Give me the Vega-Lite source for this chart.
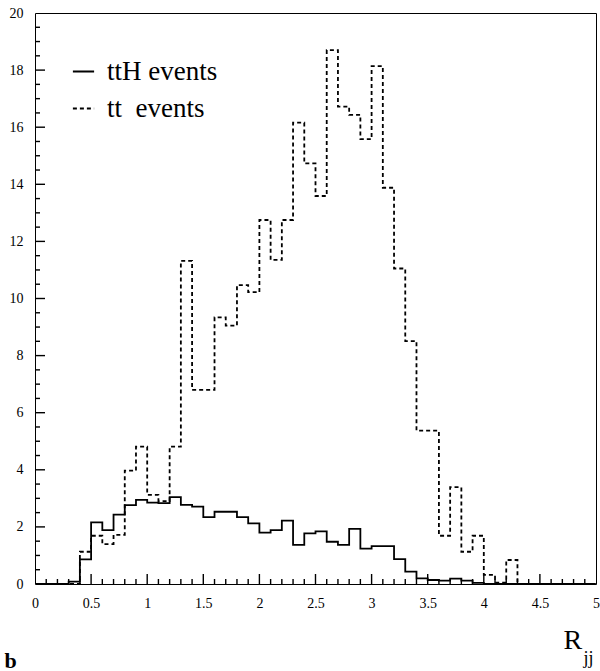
{
  "$schema": "https://vega.github.io/schema/vega-lite/v6.json",
  "autosize": "none",
  "width": 561,
  "height": 571,
  "padding": {"left": 35, "top": 13, "right": 4, "bottom": 87},
  "background": "white",
  "config": {
    "view": {"stroke": "black", "strokeWidth": 1, "fill": null},
    "font": "Liberation Serif",
    "tick": {"color": "black", "thickness": 1.4, "opacity": 1}
  },
  "datasets": {
    "hist": [
      {"x": 0.0, "v": 0, "s": "ttH events"}, {"x": 0.1, "v": 0, "s": "ttH events"}, {"x": 0.2, "v": 0, "s": "ttH events"}, {"x": 0.3, "v": 0.08, "s": "ttH events"}, {"x": 0.4, "v": 0.86, "s": "ttH events"},
      {"x": 0.5, "v": 2.16, "s": "ttH events"}, {"x": 0.6, "v": 1.89, "s": "ttH events"}, {"x": 0.7, "v": 2.43, "s": "ttH events"}, {"x": 0.8, "v": 2.76, "s": "ttH events"}, {"x": 0.9, "v": 2.95, "s": "ttH events"},
      {"x": 1.0, "v": 2.85, "s": "ttH events"}, {"x": 1.1, "v": 2.83, "s": "ttH events"}, {"x": 1.2, "v": 3.04, "s": "ttH events"}, {"x": 1.3, "v": 2.77, "s": "ttH events"}, {"x": 1.4, "v": 2.71, "s": "ttH events"},
      {"x": 1.5, "v": 2.34, "s": "ttH events"}, {"x": 1.6, "v": 2.53, "s": "ttH events"}, {"x": 1.7, "v": 2.53, "s": "ttH events"}, {"x": 1.8, "v": 2.34, "s": "ttH events"}, {"x": 1.9, "v": 2.12, "s": "ttH events"},
      {"x": 2.0, "v": 1.80, "s": "ttH events"}, {"x": 2.1, "v": 1.89, "s": "ttH events"}, {"x": 2.2, "v": 2.22, "s": "ttH events"}, {"x": 2.3, "v": 1.37, "s": "ttH events"}, {"x": 2.4, "v": 1.77, "s": "ttH events"},
      {"x": 2.5, "v": 1.84, "s": "ttH events"}, {"x": 2.6, "v": 1.48, "s": "ttH events"}, {"x": 2.7, "v": 1.37, "s": "ttH events"}, {"x": 2.8, "v": 1.93, "s": "ttH events"}, {"x": 2.9, "v": 1.24, "s": "ttH events"},
      {"x": 3.0, "v": 1.33, "s": "ttH events"}, {"x": 3.1, "v": 1.33, "s": "ttH events"}, {"x": 3.2, "v": 0.87, "s": "ttH events"}, {"x": 3.3, "v": 0.43, "s": "ttH events"}, {"x": 3.4, "v": 0.20, "s": "ttH events"},
      {"x": 3.5, "v": 0.14, "s": "ttH events"}, {"x": 3.6, "v": 0.12, "s": "ttH events"}, {"x": 3.7, "v": 0.19, "s": "ttH events"}, {"x": 3.8, "v": 0.12, "s": "ttH events"}, {"x": 3.9, "v": 0.04, "s": "ttH events"},
      {"x": 4.0, "v": 0, "s": "ttH events"}, {"x": 4.1, "v": 0, "s": "ttH events"}, {"x": 4.2, "v": 0, "s": "ttH events"}, {"x": 4.3, "v": 0, "s": "ttH events"}, {"x": 4.4, "v": 0, "s": "ttH events"},
      {"x": 4.5, "v": 0, "s": "ttH events"}, {"x": 4.6, "v": 0, "s": "ttH events"}, {"x": 4.7, "v": 0, "s": "ttH events"}, {"x": 4.8, "v": 0, "s": "ttH events"}, {"x": 4.9, "v": 0, "s": "ttH events"},
      {"x": 5.0, "v": 0, "s": "ttH events"},

      {"x": 0.0, "v": 0, "s": "tt\u00a0 events"}, {"x": 0.1, "v": 0, "s": "tt\u00a0 events"}, {"x": 0.2, "v": 0, "s": "tt\u00a0 events"}, {"x": 0.3, "v": 0, "s": "tt\u00a0 events"}, {"x": 0.4, "v": 1.13, "s": "tt\u00a0 events"},
      {"x": 0.5, "v": 1.69, "s": "tt\u00a0 events"}, {"x": 0.6, "v": 1.40, "s": "tt\u00a0 events"}, {"x": 0.7, "v": 1.72, "s": "tt\u00a0 events"}, {"x": 0.8, "v": 3.97, "s": "tt\u00a0 events"}, {"x": 0.9, "v": 4.81, "s": "tt\u00a0 events"},
      {"x": 1.0, "v": 3.12, "s": "tt\u00a0 events"}, {"x": 1.1, "v": 2.90, "s": "tt\u00a0 events"}, {"x": 1.2, "v": 4.81, "s": "tt\u00a0 events"}, {"x": 1.3, "v": 11.32, "s": "tt\u00a0 events"}, {"x": 1.4, "v": 6.80, "s": "tt\u00a0 events"},
      {"x": 1.5, "v": 6.80, "s": "tt\u00a0 events"}, {"x": 1.6, "v": 9.34, "s": "tt\u00a0 events"}, {"x": 1.7, "v": 9.05, "s": "tt\u00a0 events"}, {"x": 1.8, "v": 10.47, "s": "tt\u00a0 events"}, {"x": 1.9, "v": 10.22, "s": "tt\u00a0 events"},
      {"x": 2.0, "v": 12.75, "s": "tt\u00a0 events"}, {"x": 2.1, "v": 11.35, "s": "tt\u00a0 events"}, {"x": 2.2, "v": 12.75, "s": "tt\u00a0 events"}, {"x": 2.3, "v": 16.16, "s": "tt\u00a0 events"}, {"x": 2.4, "v": 14.73, "s": "tt\u00a0 events"},
      {"x": 2.5, "v": 13.59, "s": "tt\u00a0 events"}, {"x": 2.6, "v": 18.70, "s": "tt\u00a0 events"}, {"x": 2.7, "v": 16.72, "s": "tt\u00a0 events"}, {"x": 2.8, "v": 16.43, "s": "tt\u00a0 events"}, {"x": 2.9, "v": 15.58, "s": "tt\u00a0 events"},
      {"x": 3.0, "v": 18.14, "s": "tt\u00a0 events"}, {"x": 3.1, "v": 13.88, "s": "tt\u00a0 events"}, {"x": 3.2, "v": 11.05, "s": "tt\u00a0 events"}, {"x": 3.3, "v": 8.51, "s": "tt\u00a0 events"}, {"x": 3.4, "v": 5.37, "s": "tt\u00a0 events"},
      {"x": 3.5, "v": 5.37, "s": "tt\u00a0 events"}, {"x": 3.6, "v": 1.69, "s": "tt\u00a0 events"}, {"x": 3.7, "v": 3.39, "s": "tt\u00a0 events"}, {"x": 3.8, "v": 1.13, "s": "tt\u00a0 events"}, {"x": 3.9, "v": 1.69, "s": "tt\u00a0 events"},
      {"x": 4.0, "v": 0.32, "s": "tt\u00a0 events"}, {"x": 4.1, "v": 0.05, "s": "tt\u00a0 events"}, {"x": 4.2, "v": 0.84, "s": "tt\u00a0 events"}, {"x": 4.3, "v": 0, "s": "tt\u00a0 events"}, {"x": 4.4, "v": 0, "s": "tt\u00a0 events"},
      {"x": 4.5, "v": 0, "s": "tt\u00a0 events"}, {"x": 4.6, "v": 0, "s": "tt\u00a0 events"}, {"x": 4.7, "v": 0, "s": "tt\u00a0 events"}, {"x": 4.8, "v": 0, "s": "tt\u00a0 events"}, {"x": 4.9, "v": 0, "s": "tt\u00a0 events"},
      {"x": 5.0, "v": 0, "s": "tt\u00a0 events"}
    ],
    "xMajor": [{"t": 0.5}, {"t": 1}, {"t": 1.5}, {"t": 2}, {"t": 2.5}, {"t": 3}, {"t": 3.5}, {"t": 4}, {"t": 4.5}],
    "xMinor": [{"t": 0.1}, {"t": 0.2}, {"t": 0.3}, {"t": 0.4}, {"t": 0.6}, {"t": 0.7}, {"t": 0.8}, {"t": 0.9}, {"t": 1.1}, {"t": 1.2}, {"t": 1.3}, {"t": 1.4}, {"t": 1.6}, {"t": 1.7}, {"t": 1.8}, {"t": 1.9}, {"t": 2.1}, {"t": 2.2}, {"t": 2.3}, {"t": 2.4}, {"t": 2.6}, {"t": 2.7}, {"t": 2.8}, {"t": 2.9}, {"t": 3.1}, {"t": 3.2}, {"t": 3.3}, {"t": 3.4}, {"t": 3.6}, {"t": 3.7}, {"t": 3.8}, {"t": 3.9}, {"t": 4.1}, {"t": 4.2}, {"t": 4.3}, {"t": 4.4}, {"t": 4.6}, {"t": 4.7}, {"t": 4.8}, {"t": 4.9}],
    "yMajor": [{"t": 2}, {"t": 4}, {"t": 6}, {"t": 8}, {"t": 10}, {"t": 12}, {"t": 14}, {"t": 16}, {"t": 18}],
    "yMinor": [{"t": 0.5}, {"t": 1}, {"t": 1.5}, {"t": 2.5}, {"t": 3}, {"t": 3.5}, {"t": 4.5}, {"t": 5}, {"t": 5.5}, {"t": 6.5}, {"t": 7}, {"t": 7.5}, {"t": 8.5}, {"t": 9}, {"t": 9.5}, {"t": 10.5}, {"t": 11}, {"t": 11.5}, {"t": 12.5}, {"t": 13}, {"t": 13.5}, {"t": 14.5}, {"t": 15}, {"t": 15.5}, {"t": 16.5}, {"t": 17}, {"t": 17.5}, {"t": 18.5}, {"t": 19}, {"t": 19.5}]
  },
  "resolve": {"axis": {"x": "independent", "y": "independent"}},
  "layer": [
    {
      "description": "inward major ticks along the bottom edge",
      "data": {"name": "xMajor"},
      "mark": {"type": "tick", "orient": "vertical", "size": 10, "yOffset": -5},
      "encoding": {
        "x": {"field": "t", "type": "quantitative", "scale": {"domain": [0, 5], "nice": false, "zero": false}, "axis": null},
        "y": {"datum": 0, "type": "quantitative", "scale": {"domain": [0, 20], "nice": false}, "axis": null}
      }
    },
    {
      "description": "inward minor ticks along the bottom edge; its axis only carries the panel letter",
      "data": {"name": "xMinor"},
      "mark": {"type": "tick", "orient": "vertical", "size": 5, "yOffset": -2.5},
      "encoding": {
        "x": {
          "field": "t", "type": "quantitative",
          "scale": {"domain": [0, 5], "nice": false, "zero": false},
          "axis": {
            "orient": "bottom",
            "values": [0],
            "grid": false, "domain": false, "labels": false, "ticks": false,
            "title": "b",
            "titleFont": "Liberation Serif",
            "titleFontSize": 22,
            "titleFontWeight": "bold",
            "titleColor": "black",
            "titleAlign": "left",
            "titleBaseline": "alphabetic",
            "titleX": -31,
            "titleY": 83
          }
        },
        "y": {"datum": 0, "type": "quantitative", "scale": {"domain": [0, 20], "nice": false}, "axis": null}
      }
    },
    {
      "description": "inward major ticks along the left edge",
      "data": {"name": "yMajor"},
      "mark": {"type": "tick", "orient": "horizontal", "size": 10, "xOffset": 5},
      "encoding": {
        "y": {"field": "t", "type": "quantitative", "scale": {"domain": [0, 20], "nice": false}, "axis": null},
        "x": {"datum": 0, "type": "quantitative", "scale": {"domain": [0, 5], "nice": false, "zero": false}, "axis": null}
      }
    },
    {
      "description": "inward minor ticks along the left edge",
      "data": {"name": "yMinor"},
      "mark": {"type": "tick", "orient": "horizontal", "size": 5, "xOffset": 2.5},
      "encoding": {
        "y": {"field": "t", "type": "quantitative", "scale": {"domain": [0, 20], "nice": false}, "axis": null},
        "x": {"datum": 0, "type": "quantitative", "scale": {"domain": [0, 5], "nice": false, "zero": false}, "axis": null}
      }
    },
    {
      "data": {"name": "hist"},
      "mark": {"type": "line", "interpolate": "step-after", "color": "black", "strokeWidth": 1.8, "clip": true},
      "encoding": {
        "x": {
          "field": "x", "type": "quantitative",
          "scale": {"domain": [0, 5], "nice": false, "zero": false},
          "axis": {
            "orient": "bottom",
            "values": [0, 0.5, 1, 1.5, 2, 2.5, 3, 3.5, 4, 4.5, 5],
            "grid": false,
            "domain": false,
            "ticks": false,
            "labelExpr": "format(datum.value, '~g')",
            "labelFont": "Liberation Serif",
            "labelFontSize": 14,
            "labelColor": "black",
            "labelPadding": 12,
            "labelFlush": false,
            "labelOverlap": false,
            "title": "R",
            "titleFont": "Liberation Serif",
            "titleFontSize": 28,
            "titleFontWeight": "normal",
            "titleColor": "black",
            "titleAlign": "left",
            "titleBaseline": "alphabetic",
            "titleX": 528,
            "titleY": 64
          }
        },
        "y": {
          "field": "v", "type": "quantitative",
          "scale": {"domain": [0, 20], "nice": false},
          "axis": {
            "orient": "left",
            "values": [0, 2, 4, 6, 8, 10, 12, 14, 16, 18, 20],
            "grid": false,
            "domain": false,
            "ticks": false,
            "labelExpr": "format(datum.value, 'd')",
            "labelFont": "Liberation Serif",
            "labelFontSize": 14,
            "labelColor": "black",
            "labelPadding": 12,
            "labelFlush": false,
            "labelOverlap": false,
            "title": "jj",
            "titleFont": "Liberation Serif",
            "titleFontSize": 18,
            "titleFontWeight": "normal",
            "titleColor": "black",
            "titleAngle": 0,
            "titleAlign": "left",
            "titleBaseline": "alphabetic",
            "titleX": 548,
            "titleY": 650
          }
        },
        "strokeDash": {
          "field": "s", "type": "nominal",
          "scale": {"domain": ["ttH events", "tt\u00a0 events"], "range": [[1, 0], [4, 3]]},
          "legend": {
            "title": null,
            "orient": "none",
            "legendX": 35,
            "legendY": 45,
            "symbolType": "stroke",
            "symbolSize": 450,
            "symbolStrokeWidth": 1.8,
            "symbolStrokeColor": "black",
            "labelFont": "Liberation Serif",
            "labelFontSize": 27,
            "labelColor": "black",
            "labelOffset": 10,
            "rowPadding": 9,
            "labelLimit": 300
          }
        }
      }
    }
  ]
}
